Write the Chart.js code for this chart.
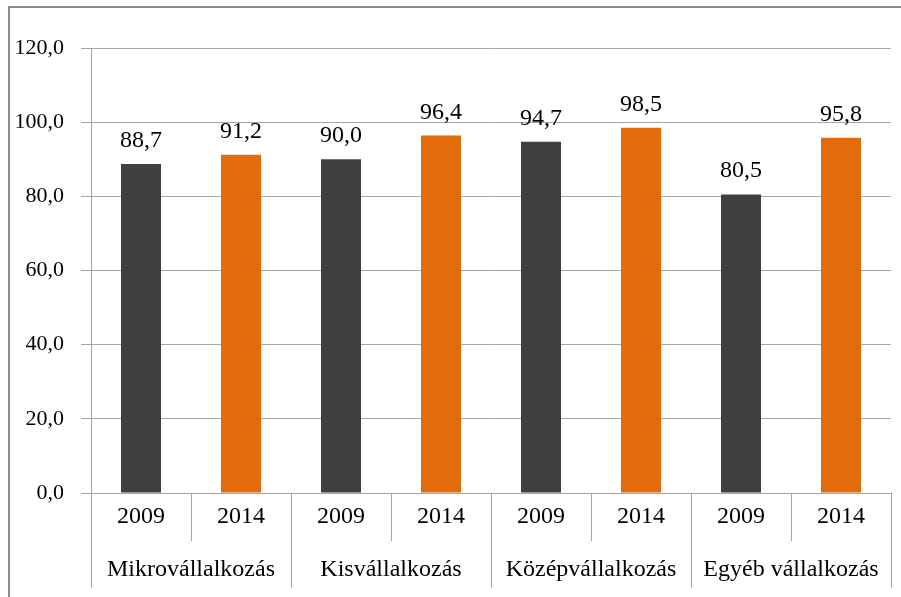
<!DOCTYPE html>
<html>
<head>
<meta charset="utf-8">
<script src="https://cdn.jsdelivr.net/npm/chart.js@4"></script>
<style>
  html, body { margin: 0; padding: 0; background: #ffffff; }
  #wrap { width: 901px; height: 597px; position: relative; }
  canvas { display: block; }
</style>
</head>
<body>
<div id="wrap"><canvas id="c" width="901" height="597"></canvas></div>
<script>
const groups = ['Mikrovállalkozás', 'Kisvállalkozás', 'Középvállalkozás', 'Egyéb vállalkozás'];
const years = ['2009', '2014'];
const values2009 = [88.7, 90.0, 94.7, 80.5];
const values2014 = [91.2, 96.4, 98.5, 95.8];
const yTicks = [0, 20, 40, 60, 80, 100, 120];

const colors = { '2009': '#404040', '2014': '#E36C0A' };
const FONT = "'Liberation Serif', 'Times New Roman', serif";
const GRID = '#a6a6a6';

const labels = [];
const data = [];
const barColors = [];
groups.forEach((g, i) => {
  labels.push(years[0]); data.push(values2009[i]); barColors.push(colors['2009']);
  labels.push(years[1]); data.push(values2014[i]); barColors.push(colors['2014']);
});

const fmt = v => Number(v).toFixed(1).replace('.', ',');

const customPlugin = {
  id: 'custom',
  afterDatasetsDraw(chart) {
    const ctx = chart.ctx;
    const meta = chart.getDatasetMeta(0);
    ctx.save();
    ctx.font = '24px ' + FONT;
    ctx.fillStyle = '#000';
    ctx.textAlign = 'center';
    ctx.textBaseline = 'alphabetic';
    meta.data.forEach((bar, i) => {
      ctx.fillText(fmt(data[i]), bar.x, bar.y - 17);
    });
    ctx.restore();
  },
  afterDraw(chart) {
    const ctx = chart.ctx;
    const x = chart.scales.x;
    const area = chart.chartArea;
    ctx.save();
    // outer frame (left and top)
    ctx.strokeStyle = '#8c8c8c';
    ctx.lineWidth = 2;
    ctx.beginPath();
    ctx.moveTo(9, 597);
    ctx.lineTo(9, 7);
    ctx.lineTo(901, 7);
    ctx.stroke();
    // group separators
    ctx.strokeStyle = GRID;
    ctx.lineWidth = 1;
    for (let g = 0; g <= groups.length; g++) {
      let px;
      if (g === 0) px = area.left;
      else if (g === groups.length) px = area.right;
      else px = (x.getPixelForValue(2 * g - 1) + x.getPixelForValue(2 * g)) / 2;
      px = Math.round(px) + 0.5;
      ctx.beginPath();
      ctx.moveTo(px, area.bottom);
      ctx.lineTo(px, 588);
      ctx.stroke();
    }
    // group labels
    ctx.font = '24px ' + FONT;
    ctx.fillStyle = '#000';
    ctx.textAlign = 'center';
    ctx.textBaseline = 'middle';
    groups.forEach((g, i) => {
      const cx = (x.getPixelForValue(2 * i) + x.getPixelForValue(2 * i + 1)) / 2;
      ctx.fillText(g, cx, 570);
    });
    ctx.restore();
  }
};

new Chart(document.getElementById('c'), {
  type: 'bar',
  data: {
    labels: labels,
    datasets: [{
      data: data,
      backgroundColor: barColors,
      borderWidth: 0,
      categoryPercentage: 1.0,
      barPercentage: 0.4
    }]
  },
  options: {
    responsive: false,
    animation: false,
    events: [],
    layout: { padding: { left: 0, right: 10, top: 48, bottom: 0 } },
    plugins: {
      legend: { display: false },
      tooltip: { enabled: false },
      title: { display: false }
    },
    scales: {
      x: {
        offset: true,
        grid: {
          offset: true,
          drawOnChartArea: false,
          drawTicks: true,
          tickLength: 48,
          color: GRID,
          lineWidth: 1
        },
        border: { display: true, color: GRID, width: 1 },
        ticks: {
          padding: -39,
          maxRotation: 0,
          autoSkip: false,
          color: '#000',
          font: { family: FONT, size: 24 }
        },
        afterFit(scale) { scale.height = 104; }
      },
      y: {
        min: 0,
        max: 120,
        afterBuildTicks(scale) { scale.ticks = yTicks.map(v => ({ value: v })); },
        grid: {
          color: GRID,
          lineWidth: 1,
          tickLength: 10,
          drawTicks: true
        },
        border: { display: true, color: GRID, width: 1 },
        ticks: {
          padding: 17,
          color: '#000',
          font: { family: FONT, size: 22 },
          callback: v => fmt(v)
        },
        afterFit(scale) { scale.width = 91; }
      }
    }
  },
  plugins: [customPlugin]
});
</script>
</body>
</html>
